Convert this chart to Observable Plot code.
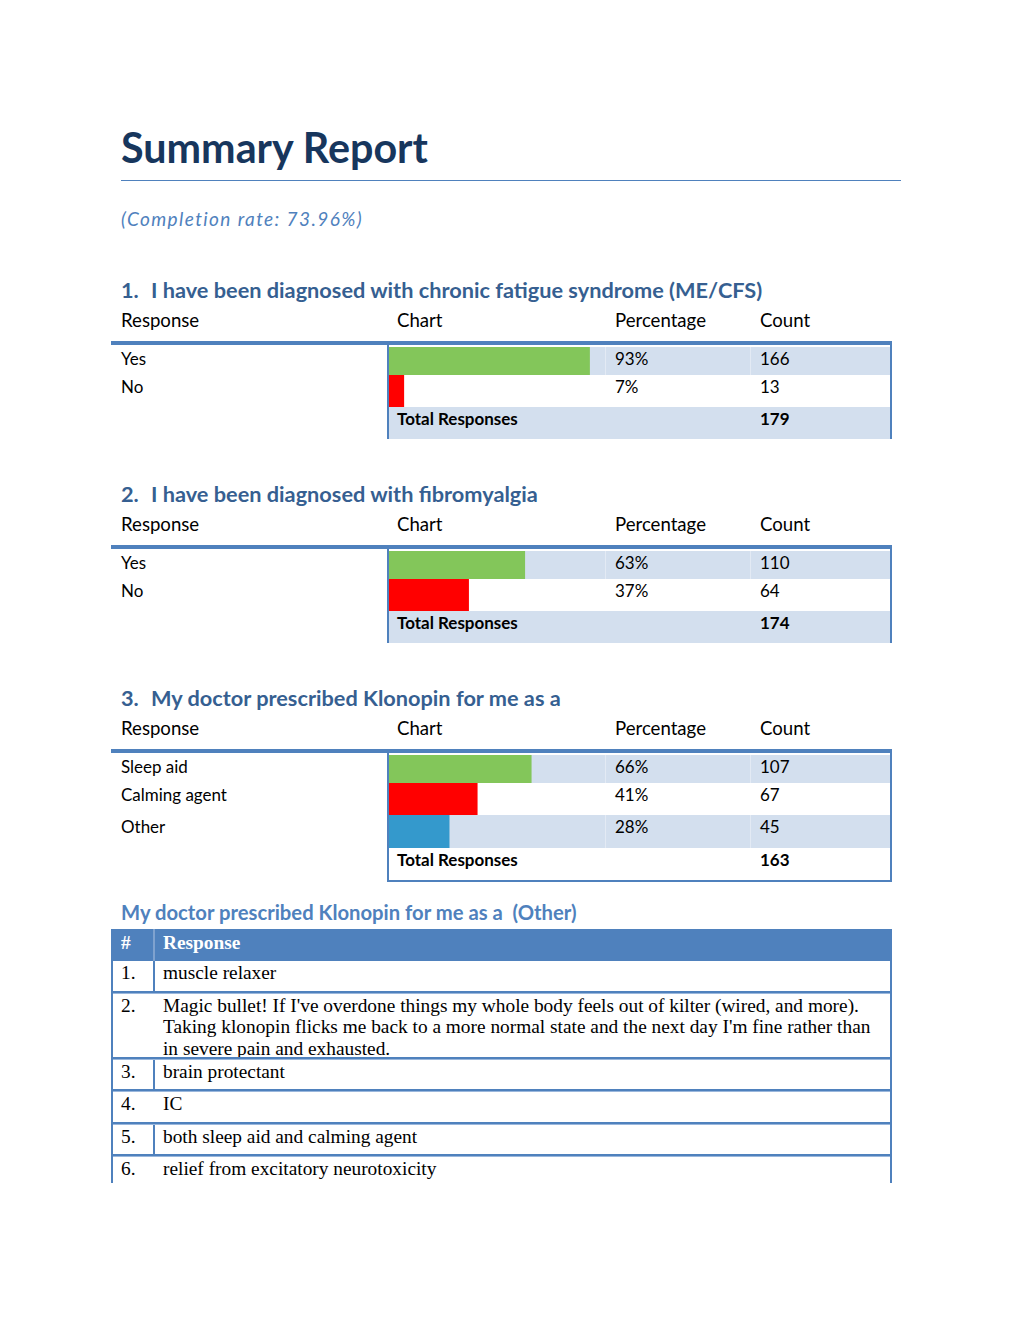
<!DOCTYPE html>
<html><head><meta charset="utf-8">
<script src="https://cdn.jsdelivr.net/npm/d3@7"></script>
<script src="https://cdn.jsdelivr.net/npm/@observablehq/plot@0.6"></script>
<style>
html,body{margin:0;padding:0;background:#fff;}
#page{position:relative;width:1020px;height:1320px;overflow:hidden;font-family:Lato,"Noto Sans",sans-serif;color:#000;}
#page > div{position:absolute;white-space:pre;}
</style></head><body><div id="page"></div>
<script>
// ---------- data ----------
const reportTitle = "Summary Report";
const completionNote = "(Completion rate: 73.96%)";
const questionNumbers = ["1.", "2.", "3."];
const questionTexts = [
  "I have been diagnosed with chronic fatigue syndrome (ME/CFS)",
  "I have been diagnosed with fibromyalgia",
  "My doctor prescribed Klonopin for me as a"
];
const columnHeaders = ["Response", "Chart", "Percentage", "Count"];
const totalLabel = "Total Responses";

const q1Answers = ["Yes", "No"];
const q1Percent = [93, 7];
const q1Count = [166, 13];
const q1Total = 179;

const q2Answers = ["Yes", "No"];
const q2Percent = [63, 37];
const q2Count = [110, 64];
const q2Total = 174;

const q3Answers = ["Sleep aid", "Calming agent", "Other"];
const q3Percent = [66, 41, 28];
const q3Count = [107, 67, 45];
const q3Total = 163;

const barColors = ["#83c65a", "#ff0000", "#3499cc"];

const otherTitle = "My doctor prescribed Klonopin for me as a  (Other)";
const otherHeaders = ["#", "Response"];
const otherResponses = [
  "muscle relaxer",
  "Magic bullet! If I've overdone things my whole body feels out of kilter (wired, and more). Taking klonopin flicks me back to a more normal state and the next day I'm fine rather than in severe pain and exhausted.",
  "brain protectant",
  "IC",
  "both sleep aid and calming agent",
  "relief from excitatory neurotoxicity"
];

// ---------- layout helpers ----------
const page = document.getElementById("page");
const ctx = document.createElement("canvas").getContext("2d");
function fit(str, font, target) {
  ctx.font = font.replace("{s}", "100px");
  return 100 * target / ctx.measureText(str).width;
}
function box(x, y, w, h, bg) {
  const d = document.createElement("div");
  Object.assign(d.style, {left: x + "px", top: y + "px", width: w + "px", height: h + "px", background: bg});
  page.appendChild(d);
  return d;
}
function text(str, x, cy, size, o = {}) {
  const lh = o.lh || Math.round(size * 1.35);
  const d = document.createElement("div");
  d.textContent = str;
  Object.assign(d.style, {
    left: x + "px", top: (cy - lh / 2) + "px", lineHeight: lh + "px", fontSize: size + "px",
    fontWeight: o.weight || "normal", fontStyle: o.style || "normal", color: o.color || "#000",
    fontFamily: o.family || "Lato, sans-serif", letterSpacing: o.ls || "normal"
  });
  if (o.width) { d.style.width = o.width + "px"; d.style.whiteSpace = "normal"; }
  page.appendChild(d);
  return d;
}
function bar(pct, color, x, y, h) {
  const svg = Plot.plot({
    width: 216, height: h, margin: 0,
    style: {background: "transparent"},
    x: {domain: [0, 100], axis: null},
    marks: [Plot.barX([{pct}], {x: "pct", fill: color})]
  });
  const d = document.createElement("div");
  Object.assign(d.style, {left: x + "px", top: y + "px", width: "216px", height: h + "px"});
  d.appendChild(svg);
  page.appendChild(d);
}

// ---------- sizes ----------
const SERIF = "'Liberation Serif', serif";
const titleSize = fit(reportTitle, "bold {s} Lato", 308);
const noteLS = 1.4;
const noteSize = fit(completionNote, "italic {s} Lato", 242 - completionNote.length * noteLS);
const headSize = fit(questionTexts[0], "bold {s} Lato", 612);
const hdrSize = fit("Percentage", "{s} Lato", 91);
const bodySize = fit("Calming agent", "{s} Lato", 106);
const otherTitleSize = fit(otherTitle, "bold {s} Lato", 457);
const serifSize = fit(otherResponses[1], "{s} " + SERIF, 1641);

// ---------- header ----------
text(reportTitle, 121, 147, titleSize, {weight: "bold", color: "#17365d"});
box(121, 180, 780, 1.3, "#4f81bd");
text(completionNote, 121, 219, noteSize, {style: "italic", color: "#4f81bd", ls: noteLS + "px"});

// ---------- questions ----------
const questions = [
  {answers: q1Answers, percent: q1Percent, count: q1Count, total: q1Total},
  {answers: q2Answers, percent: q2Percent, count: q2Count, total: q2Total},
  {answers: q3Answers, percent: q3Percent, count: q3Count, total: q3Total}
];
const colX = [121, 397, 615, 760];
const rowHeights = [28, 32, 33];
questions.forEach((q, i) => {
  const o = i * 204;
  text(questionNumbers[i], 121, 290 + o, headSize, {weight: "bold", color: "#365f91"});
  text(questionTexts[i], 151, 290 + o, headSize, {weight: "bold", color: "#365f91"});
  columnHeaders.forEach((h, j) => text(h, colX[j], 320 + o, hdrSize));
  box(111, 341 + o, 781, 4, "#4f81bd");
  let y = 347 + o;
  q.answers.forEach((a, k) => {
    const h = rowHeights[k];
    if (k % 2 === 0) {
      box(389, y, 501, h, "#d3dfee");
      box(605, y, 1, h, "#e3eaf4");
      box(750, y, 1, h, "#e3eaf4");
    }
    bar(q.percent[k], barColors[k], 389, y, h);
    text(a, 121, y + 11, bodySize);
    text(q.percent[k] + "%", 615, y + 11, bodySize);
    text(String(q.count[k]), 760, y + 11, bodySize);
    y += h;
  });
  const th = 32;
  if (q.answers.length % 2 === 0) box(389, y, 501, th, "#d3dfee");
  text(totalLabel, 397, y + 11, bodySize, {weight: "bold"});
  text(String(q.total), 760, y + 11, bodySize, {weight: "bold"});
  box(387, 345 + o, 2, y + th - (345 + o), "#4f81bd");
  box(890, 345 + o, 2, y + th - (345 + o), "#4f81bd");
  if (q.answers.length % 2 === 1) box(387, y + th, 505, 2, "#4f81bd");
});

// ---------- "Other" responses table ----------
text(otherTitle, 121, 912, otherTitleSize, {weight: "bold", color: "#4f81bd"});
box(111, 929, 781, 32, "#4f81bd");
box(153, 929, 1.5, 32, "#7fa2cf");
text(otherHeaders[0], 121, 943, serifSize, {weight: "bold", color: "#fff", family: SERIF});
text(otherHeaders[1], 163, 943, serifSize, {weight: "bold", color: "#fff", family: SERIF});
const tableBottom = 1183;
let ry = 961;
otherResponses.forEach((r, k) => {
  const top = ry;
  text((k + 1) + ".", 121, top + 12, serifSize, {family: SERIF, lh: 21.5});
  const d = text(r, 163, top + 12, serifSize, {family: SERIF, lh: 21.5, width: 722});
  const lines = Math.max(1, Math.round(d.offsetHeight / 21.5));
  const h = lines === 1 ? 29.5 : 21.5 * (lines - 1) + 20;
  const bottom = Math.min(top + h, tableBottom);
  if (k % 2 === 0) box(153, top, 2, bottom - top, "#4f81bd");
  if (top + h < tableBottom) {
    box(111, top + h, 781, 2, "#4f81bd");
    box(111, top + h + 2, 781, 1, "#9ab7dc");
  }
  ry = top + h + 3;
});
box(111, 929, 2, tableBottom - 929, "#4f81bd");
box(890, 929, 2, tableBottom - 929, "#4f81bd");
</script>
</body></html>
